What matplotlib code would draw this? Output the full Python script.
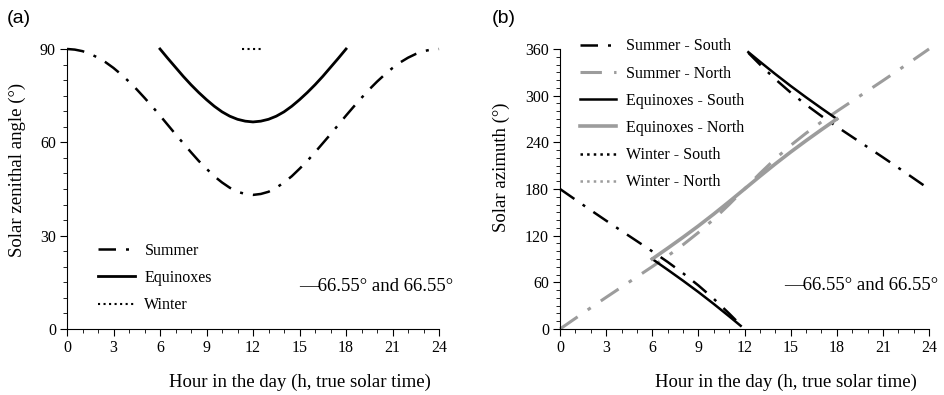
"""
Solar zenith angle and azimuth at the polar circles
"""

import matplotlib
matplotlib.use("Agg")
from matplotlib import pyplot as plt
from matplotlib.ticker import MultipleLocator

plt.rcParams['font.family'] = ['Liberation Serif', 'DejaVu Serif']

# (a) zenith angle, half-hourly
half_hours = [i / 2 for i in range(49)]
summer_zenith = [90.0, 89.8, 89.3, 88.4, 87.2, 85.7, 83.9, 81.8, 79.5, 77.0, 74.3, 71.5, 68.6,
                 65.6, 62.6, 59.7, 56.8, 54.0, 51.5, 49.1, 47.1, 45.4, 44.1, 43.4, 43.1,
                 43.4, 44.1, 45.4, 47.1, 49.1, 51.5, 54.0, 56.8, 59.7, 62.6, 65.6, 68.6,
                 71.5, 74.3, 77.0, 79.5, 81.8, 83.9, 85.7, 87.2, 88.4, 89.3, 89.8, 90.0]
equinox_hours = [6 + i / 2 for i in range(25)]
equinox_zenith = [90.0, 87.0, 84.1, 81.2, 78.5, 76.0, 73.7, 71.6, 69.8, 68.4, 67.4, 66.8, 66.55,
                  66.8, 67.4, 68.4, 69.8, 71.6, 73.7, 76.0, 78.5, 81.2, 84.1, 87.0, 90.0]
winter_hours = [11.3, 12.0, 12.7]
winter_zenith = [90.0, 90.0, 90.0]

# (b) azimuth
hours = list(range(25))
am_hours = [0, 1, 2, 3, 4, 5, 6, 7, 8, 9, 10, 11, 11.75]
pm_hours = [12.25, 13, 14, 15, 16, 17, 18, 19, 20, 21, 22, 23, 24]
summer_south_am = [180, 166.3, 152.7, 139.3, 126.1, 113.0, 99.8, 86.2, 71.7, 56.0, 38.8, 19.9, 5.0]
summer_south_pm = [355.0, 340.1, 321.2, 304.0, 288.3, 273.8, 260.2, 247.0, 233.9, 220.7, 207.3, 193.7, 180]
summer_north = [0, 13.7, 27.3, 40.7, 53.9, 67.0, 80.2, 93.8, 108.3, 124.0, 141.2, 160.1, 180,
                199.9, 218.8, 236.0, 251.7, 266.2, 279.8, 293.0, 306.1, 319.3, 332.7, 346.3, 360]
eq_hours = list(range(6, 19))
equinox_north = [90, 103.8, 117.9, 132.5, 147.8, 163.7, 180, 196.3, 212.2, 227.5, 242.1, 256.2, 270]
eq_am_hours = [6, 7, 8, 9, 10, 11, 11.75]
eq_pm_hours = [12.25, 13, 14, 15, 16, 17, 18]
equinox_south_am = [90, 76.2, 62.1, 47.5, 32.2, 16.3, 4.1]
equinox_south_pm = [355.9, 343.7, 327.8, 312.5, 297.9, 283.8, 270]

GRAY = '#9c9c9c'
DASHDOT = (0, (7, 4, 1.2, 4))

fig = plt.figure(figsize=(9.45, 3.95), dpi=100)
ax1 = fig.add_axes([0.0709, 0.1671, 0.3937, 0.7089])
ax2 = fig.add_axes([0.5926, 0.1671, 0.3905, 0.7089])


def style(ax, ymax, ymajor, yminor):
    ax.set_xlim(0, 24)
    ax.set_ylim(0, ymax)
    ax.spines['top'].set_visible(False)
    ax.spines['right'].set_visible(False)
    ax.xaxis.set_major_locator(MultipleLocator(3))
    ax.xaxis.set_minor_locator(MultipleLocator(1))
    ax.yaxis.set_major_locator(MultipleLocator(ymajor))
    ax.yaxis.set_minor_locator(MultipleLocator(yminor))
    ax.tick_params(which='major', direction='out', length=5, labelsize=11.5, pad=3)
    ax.tick_params(which='minor', direction='out', length=3)


# panel (a)
ax1.plot(half_hours, summer_zenith, color='black', lw=1.8, linestyle=DASHDOT, clip_on=False, label='Summer')
ax1.plot(equinox_hours, equinox_zenith, color='black', lw=2.0, clip_on=False, label='Equinoxes')
ax1.plot(winter_hours, winter_zenith, color='black', lw=1.5, linestyle=':', clip_on=False, label='Winter')
style(ax1, 90, 30, 5)
ax1.legend(loc='lower left', bbox_to_anchor=(0.045, 0.005), frameon=False, fontsize=11.5,
           handlelength=2.3, labelspacing=0.7, handletextpad=0.6, borderpad=0.4)
ax1.text(1.038, 0.15, '\u201466.55\u00b0 and 66.55\u00b0', transform=ax1.transAxes,
         ha='right', va='center', fontsize=13.5)

# panel (b)
ax2.plot(am_hours, summer_south_am, color='black', lw=1.8, linestyle=DASHDOT, clip_on=False, label='Summer - South')
ax2.plot(pm_hours, summer_south_pm, color='black', lw=1.8, linestyle=DASHDOT, clip_on=False)
ax2.plot(hours, summer_north, color=GRAY, lw=2.2, linestyle=DASHDOT, clip_on=False, label='Summer - North')
ax2.plot(eq_am_hours, equinox_south_am, color='black', lw=1.8, clip_on=False, label='Equinoxes - South')
ax2.plot(eq_pm_hours, equinox_south_pm, color='black', lw=1.8, clip_on=False)
ax2.plot(eq_hours, equinox_north, color=GRAY, lw=2.6, clip_on=False, label='Equinoxes - North')
ax2.plot([], [], color='black', lw=1.8, linestyle=':', label='Winter - South')
ax2.plot([], [], color=GRAY, lw=1.8, linestyle=':', label='Winter - North')
style(ax2, 360, 60, 10)

handles, labels = ax2.get_legend_handles_labels()
ax2.legend(handles, labels, loc='upper left', bbox_to_anchor=(0.014, 1.089), frameon=False,
           fontsize=11.5, handlelength=2.3, labelspacing=0.7, handletextpad=0.6, borderpad=0.4)
ax2.text(1.024, 0.154, '\u201466.55\u00b0 and 66.55\u00b0', transform=ax2.transAxes,
         ha='right', va='center', fontsize=13.5)

# labels
fig.text(0.317, 0.033, 'Hour in the day (h, true solar time)', ha='center', va='center', fontsize=13.5)
fig.text(0.832, 0.033, 'Hour in the day (h, true solar time)', ha='center', va='center', fontsize=13.5)
fig.text(0.018, 0.57, 'Solar zenithal angle (\u00b0)', rotation=90, ha='center', va='center', fontsize=13.5)
fig.text(0.530, 0.577, 'Solar azimuth (\u00b0)', rotation=90, ha='center', va='center', fontsize=13.5)
fig.text(0.007, 0.954, '(a)', family='Liberation Sans', ha='left', va='center', fontsize=14)
fig.text(0.520, 0.954, '(b)', family='Liberation Sans', ha='left', va='center', fontsize=14)

fig.savefig('out.png', dpi=100)
